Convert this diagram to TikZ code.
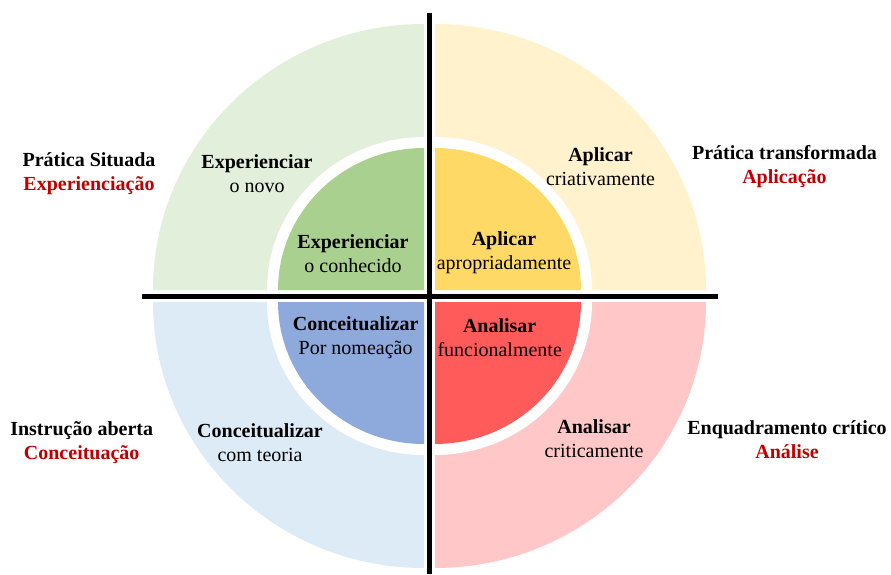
\documentclass[tikz,border=0pt]{standalone}
\usepackage{fontspec}
\setmainfont{Liberation Serif}
\definecolor{gOut}{HTML}{E2EFDA}
\definecolor{gIn}{HTML}{A9D08E}
\definecolor{yOut}{HTML}{FFF2CC}
\definecolor{yIn}{HTML}{FFD966}
\definecolor{bOut}{HTML}{DDEBF7}
\definecolor{bIn}{HTML}{8EA9DB}
\definecolor{rOut}{HTML}{FFC7C7}
\definecolor{rIn}{HTML}{FF5B5B}
\definecolor{lab}{HTML}{C00000}
\newcommand\qsector[6]{\fill[#6] (#1) -- ++(#2:#4 and #5) arc[start angle=#2, end angle=#3, x radius=#4, y radius=#5] -- cycle;}
\begin{document}
\begin{tikzpicture}[x=1pt,y=1pt,
  txt/.style={align=center, inner sep=0pt, font=\fontsize{20}{24}\selectfont},
  bar/.style={line width=5pt, black}]
\useasboundingbox (0,0) rectangle (891,574);
\coordinate (tl) at (424,284);
\coordinate (tr) at (435,284);
\coordinate (bl) at (424,272);
\coordinate (br) at (435,272);
% outer sectors
\qsector{tl}{180}{90}{271}{266}{gOut}
\qsector{tr}{90}{0}{271}{266}{yOut}
\qsector{bl}{180}{270}{271}{266}{bOut}
\qsector{br}{0}{-90}{271}{266}{rOut}
% white rings
\qsector{tl}{180}{90}{157}{153}{white}
\qsector{tr}{90}{0}{157}{153}{white}
\qsector{bl}{180}{270}{157}{153}{white}
\qsector{br}{0}{-90}{157}{153}{white}
% inner sectors
\qsector{tl}{180}{90}{146}{142}{gIn}
\qsector{tr}{90}{0}{146}{142}{yIn}
\qsector{bl}{180}{270}{146}{142}{bIn}
\qsector{br}{0}{-90}{146}{142}{rIn}
% axes
\coordinate (vt) at (429.5,561);
\coordinate (vb) at (429.5,0);
\coordinate (hl) at (142,278);
\coordinate (hr) at (718,278);
\draw[bar] (vt) -- (vb);
\draw[bar] (hl) -- (hr);
% labels
\node[txt] (ps) at (89,400) {\textbf{Prática Situada}\\\textcolor{lab}{\textbf{Experienciação}}};
\node[txt] (en) at (257,400) {\textbf{Experienciar}\\o novo};
\node[txt] (ec) at (353,320) {\textbf{Experienciar}\\o conhecido};
\node[txt] (aa) at (504,321.5) {\textbf{Aplicar}\\apropriadamente};
\node[txt] (ac) at (600.5,407.5) {\textbf{Aplicar}\\criativamente};
\node[txt] (pt) at (784.5,407.5) {\textbf{Prática transformada}\\\textcolor{lab}{\textbf{Aplicação}}};
\node[txt] (cn) at (355.6,236) {\textbf{Conceitualizar}\\Por nomeação};
\node[txt] (af) at (499.7,236) {\textbf{Analisar}\\funcionalmente};
\node[txt] (acr) at (594,135) {\textbf{Analisar}\\criticamente};
\node[txt] (eq) at (787,134.5) {\textbf{Enquadramento crítico}\\\textcolor{lab}{\textbf{Análise}}};
\node[txt] (ia) at (81.7,131) {\textbf{Instrução aberta}\\\textcolor{lab}{\textbf{Conceituação}}};
\node[txt] (ct) at (260,131) {\textbf{Conceitualizar}\\com teoria};
\end{tikzpicture}
\end{document}
